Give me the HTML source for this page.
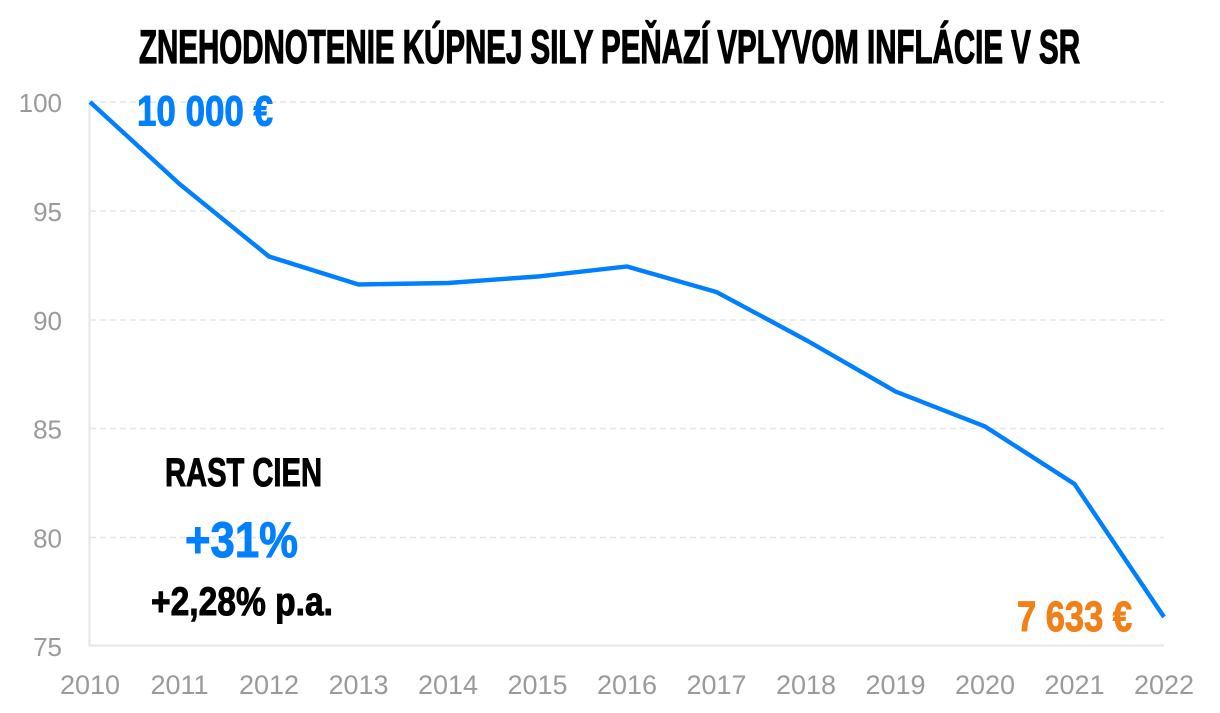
<!DOCTYPE html>
<html>
<head>
<meta charset="utf-8">
<style>
html,body{margin:0;padding:0;background:#fff;}
svg{display:block;}
.bold{font-family:"Liberation Sans",sans-serif;font-weight:bold;}
.ax{font-family:"Liberation Sans",sans-serif;fill:#9a9a9a;}
</style>
</head>
<body>
<svg width="1220" height="713" viewBox="0 0 1220 713" xmlns="http://www.w3.org/2000/svg">
<rect width="1220" height="713" fill="#fff"/>
<!-- title -->
<text class="bold" x="139" y="63" font-size="47" fill="#000" stroke="#000" stroke-width="1.3" textLength="941" lengthAdjust="spacingAndGlyphs">ZNEHODNOTENIE KÚPNEJ SILY PEŇAZÍ VPLYVOM INFLÁCIE V SR</text>

<!-- gridlines -->
<g stroke="#e3e6ee" stroke-width="1.5" stroke-dasharray="6 4">
<line x1="90" y1="102" x2="1164" y2="102"/>
<line x1="90" y1="211" x2="1164" y2="211"/>
<line x1="90" y1="320" x2="1164" y2="320"/>
<line x1="90" y1="428.5" x2="1164" y2="428.5"/>
<line x1="90" y1="537.5" x2="1164" y2="537.5"/>
</g>
<!-- axes -->
<line x1="89.5" y1="100" x2="89.5" y2="646.5" stroke="#e3e6ee" stroke-width="2"/>
<line x1="89" y1="645.5" x2="1164" y2="645.5" stroke="#e3e6ee" stroke-width="2"/>

<!-- y labels -->
<g class="ax" font-size="26" text-anchor="end">
<text x="62" y="112">100</text>
<text x="62" y="221">95</text>
<text x="62" y="330">90</text>
<text x="62" y="438.5">85</text>
<text x="62" y="547.5">80</text>
<text x="62" y="656">75</text>
</g>
<!-- x labels -->
<g class="ax" font-size="27" text-anchor="middle">
<text x="90" y="694">2010</text>
<text x="179.5" y="694">2011</text>
<text x="269" y="694">2012</text>
<text x="358.5" y="694">2013</text>
<text x="448" y="694">2014</text>
<text x="537.5" y="694">2015</text>
<text x="627" y="694">2016</text>
<text x="716.5" y="694">2017</text>
<text x="806" y="694">2018</text>
<text x="895.5" y="694">2019</text>
<text x="985" y="694">2020</text>
<text x="1074.5" y="694">2021</text>
<text x="1164" y="694">2022</text>
</g>

<!-- series -->
<polyline fill="none" stroke="#0080ff" stroke-width="4.4" stroke-linejoin="miter"
points="90,102 179.5,184 269,256.5 358.5,284.5 448,283 537.5,276.5 627,266.5 716.5,292 806,340 895.5,391.5 985,426.5 1074.5,484 1164,617"/>

<!-- annotations -->
<text class="bold" x="137" y="125.5" font-size="43" fill="#0080ff" stroke="#0080ff" stroke-width="1" textLength="136" lengthAdjust="spacingAndGlyphs">10 000 €</text>
<text class="bold" x="1017" y="631" font-size="43" fill="#f28018" stroke="#f28018" stroke-width="1" textLength="115" lengthAdjust="spacingAndGlyphs">7 633 €</text>
<text class="bold" x="165" y="486" font-size="40" fill="#000" stroke="#000" stroke-width="1" textLength="157" lengthAdjust="spacingAndGlyphs">RAST CIEN</text>
<text class="bold" x="185" y="557" font-size="50" fill="#0080ff" stroke="#0080ff" stroke-width="1" textLength="113" lengthAdjust="spacingAndGlyphs">+31%</text>
<text class="bold" x="151" y="615" font-size="40" fill="#000" stroke="#000" stroke-width="1" textLength="182" lengthAdjust="spacingAndGlyphs">+2,28% p.a.</text>
</svg>
</body>
</html>
